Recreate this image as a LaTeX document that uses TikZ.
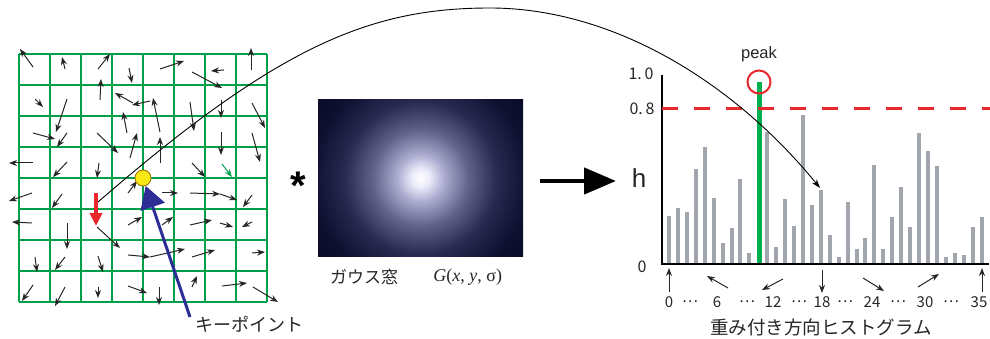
\documentclass[tikz,border=0pt]{standalone}
\usepackage{fontspec}
\setmainfont{Liberation Sans}
\newfontfamily\jpfont{Noto Sans CJK JP}
\newfontfamily\serifface{Liberation Serif}
\usetikzlibrary{positioning, arrows.meta, calc}

\definecolor{gridgreen}{RGB}{0,160,75}
\definecolor{bargray}{RGB}{160,166,172}
\definecolor{peakgreen}{RGB}{0,175,80}
\definecolor{peakred}{RGB}{232,40,45}
\definecolor{kpblue}{RGB}{45,45,150}
\definecolor{kpyellow}{RGB}{250,232,20}
\definecolor{kpedge}{RGB}{150,110,0}
\definecolor{glowa}{RGB}{236,236,250}
\definecolor{glowb}{RGB}{172,172,208}
\definecolor{glowc}{RGB}{98,98,140}
\definecolor{glowd}{RGB}{42,42,82}
\definecolor{glowe}{RGB}{16,16,50}
\definecolor{winnavy}{RGB}{7,7,36}

\pgfdeclareradialshading{gaussglow}{\pgfpoint{0bp}{0bp}}{%
  color(0bp)=(white); color(1.6bp)=(glowa); color(4.2bp)=(glowb);
  color(8.5bp)=(glowc); color(13.5bp)=(glowd); color(19bp)=(glowe);
  color(25bp)=(winnavy); color(50bp)=(winnavy)}

\begin{document}
\begin{tikzpicture}[x=1pt, y=-1pt,
    gridline/.style={gridgreen, line width=1.4pt},
    gradarr/.style={-{Stealth[length=8pt, width=6pt]}, line width=1pt, black!85},
    redarr/.style={-{Triangle[length=13pt, width=12pt]}, line width=4.5pt, peakred},
    kparr/.style={-{Triangle[length=22pt, width=25pt]}, line width=3pt, kpblue},
    bigarr/.style={-{Triangle[length=32pt, width=26pt]}, line width=4.5pt},
    swoop/.style={-{Stealth[length=9pt, width=6pt]}, line width=0.9pt},
    histbar/.style={bargray, line width=4pt},
    peakbar/.style={peakgreen, line width=5pt},
    axisline/.style={line width=1.3pt},
    thresh/.style={peakred, line width=3pt, dash pattern=on 16pt off 16pt},
    jplabel/.style={font=\jpfont\fontsize{18}{18}\selectfont, inner sep=0pt, text=black!85},
    numlabel/.style={font=\jpfont\fontsize{16}{16}\selectfont, inner sep=0pt, text=black!85},
    ticklabel/.style={font=\jpfont\fontsize{15}{15}\selectfont, inner sep=0pt, text=black!85}
]
\useasboundingbox (0,0) rectangle (990,339);

% Gradient grid
\foreach \k in {0,...,8} {
  \draw[gridline] (19+31*\k,54) -- (19+31*\k,302);
  \draw[gridline] (19,54+31*\k) -- (267,54+31*\k);
}
\foreach \ax/\ay/\bx/\by in {
  33/67/20/49, 65/69/62/57, 98/69/110/54, 129/68/132/83,
  100/100/101/79, 133/103/115/93, 150/101/132/105, 35/99/43/107,
  67/99/56/132, 33/133/55/139, 67/133/57/147, 97/133/118/153,
  127/133/123/112, 130/158/137/133, 33/163/9/163, 67/162/53/177,
  99/163/97/178, 160/69/184/61, 224/70/211/71, 251/70/251/48,
  192/72/222/88, 160/132/153/98, 160/163/160/137, 190/102/194/131,
  221/100/221/118, 252/103/265/128, 221/132/221/155, 252/133/260/162,
  192/163/205/177, 32/193/9/201, 62/194/52/208, 32/223/12/222,
  67/223/67/249, 97/227/120/248, 128/225/142/217, 128/255/150/257,
  35/257/37/272, 65/257/55/270, 98/256/103/272, 33/285/22/301,
  65/287/55/306, 98/287/98/298, 128/286/147/293, 128/193/137/181,
  162/193/178/193, 190/193/220/194, 220/194/237/200, 252/195/243/207,
  162/225/173/217, 190/225/212/220, 220/223/233/227, 252/222/242/227,
  150/257/185/249, 192/257/215/250, 252/253/265/252, 192/287/197/276,
  222/286/247/283, 253/287/278/302, 159/287/159/305}
  \draw[gradarr] (\ax,\ay) -- (\bx,\by);
\draw[gradarr, gridgreen] (222,164) -- (232,177);

% Dominant orientation at the keypoint
\coordinate (redtail) at (96,193);
\coordinate (redtip) at (96,226);
\draw[redarr] (redtail) -- (redtip);
\coordinate (arcstart) at (98,202);

% Histogram
\coordinate (orig) at (662,264);
\foreach \t [count=\i from 0] in {216,208,212,169,147,198,243,228,179,253,
    82,132,247,199,226,115,205,190,235,257,202,249,238,165,249,217,187,227,
    133,151,166,257,253,255,227,217} {
  \ifnum\i=10\else
    \draw[histbar] ({669+8.93*\i},264) -- ({669+8.93*\i},\t);
  \fi
}
\draw[peakbar] (759,264) -- (759,82);
\draw[axisline] (662,75) -- (orig) -- (989,264);
\draw[thresh] (662,109) -- (990,109);
\node[circle, draw=peakred, line width=2pt, minimum size=23pt, inner sep=0pt] (peak) at (759,82) {};
\node[font=\fontsize{16.5}{16.5}\selectfont, inner sep=0pt, text=black!85, above=7pt of peak] (peaklbl) {peak};
\coordinate (bin17) at (820,188);

% Keypoint to histogram
\draw[swoop] (arcstart) .. controls (278,46) and (370,8) .. (490,8)
  .. controls (610,8) and (731,79) .. (bin17);

% Keypoint
\node[circle, fill=kpyellow, draw=kpedge, line width=0.8pt, minimum size=16pt, inner sep=0pt] (kp) at (143,178) {};
\node[jplabel] (kplabel) at (249,324) {キーポイント};
\coordinate (kpfoot) at (190,317);
\draw[kparr] (kpfoot) -- (kp);

% Gaussian window
\node[anchor=north, inner sep=0pt, font=\bfseries\fontsize{40}{40}\selectfont] (conv) at (298,172) {*};
\node[minimum width=205pt, minimum height=156pt, inner sep=0pt,
  path picture={\shade[shading=gaussglow] (path picture bounding box.center) circle (140pt);}] (gauss) at (420.5,178) {};
\node[jplabel, font=\jpfont\fontsize{17}{17}\selectfont] (gname) at (364,277) {ガウス窓};
\node[inner sep=0pt, font=\serifface\fontsize{18}{18}\selectfont, text=black!85, right=35pt of gname] (gfunc) {\textit{G}(\textit{x}, \textit{y}, σ)};

% Arrow to histogram
\coordinate (bigtail) at (540,181);
\coordinate (bighead) at (616,181);
\draw[bigarr] (bigtail) -- (bighead);

% Axis labels
\node[inner sep=0pt, font=\fontsize{26}{26}\selectfont, text=black!85] (hlbl) at (639,178) {h};
\node[numlabel] (one) at (641,74) {1.\,0};
\node[numlabel] (eight) at (642,109) {0.\,8};
\node[numlabel] (zero) at (642,267) {0};

% Bin directions
\foreach \ax/\ay/\bx/\by in {669/292/669/268, 728/288/707/276, 783/279/762/290,
  822/270/822/293, 863/278/884/291, 918/287/939/274, 982/292/982/268}
  \draw[gradarr] (\ax,\ay) -- (\bx,\by);
\foreach \xx/\tt in {669/0, 690/…, 717/6, 747/…, 773/12, 799/…, 822/18,
  845/…, 872/24, 898/…, 925/30, 951/…, 979/35}
  \node[ticklabel] at (\xx,302) {\tt};
\node[jplabel, font=\jpfont\fontsize{18.5}{19}\selectfont] (title) at (821,327) {重み付き方向ヒストグラム};
\end{tikzpicture}
\end{document}
